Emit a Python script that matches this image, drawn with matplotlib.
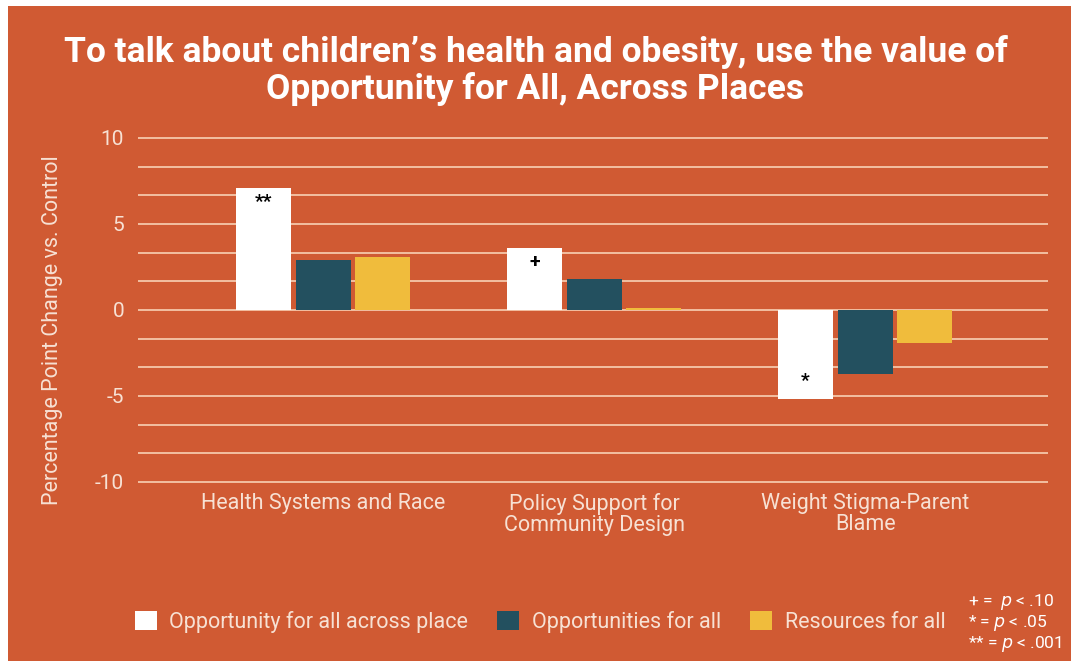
import matplotlib.pyplot as plt
import numpy as np
from matplotlib.patches import Rectangle

# ---------------------------
# Data
# ---------------------------
categories = ["Health Systems and Race",
              "Policy Support for\nCommunity Design",
              "Weight Stigma-Parent\nBlame"]
series_names = ["Opportunity for all across place",
                "Opportunities for all",
                "Resources for all"]
across_place = [7.1, 3.6, -5.2]
opportunities = [2.9, 1.8, -3.7]
resources = [3.1, 0.1, -1.9]
sig_marks = ["**", "+", "*"]
footnotes = [("+ =  ", ".10"), ("* = ", ".05"), ("** = ", ".001")]

BG = "#D05A33"
TEXT = "#F7E1D4"
GRID = "#F2BFA2"
colors = ["#FFFFFF", "#23505F", "#F0BC3C"]

plt.rcParams["font.family"] = ["Roboto", "DejaVu Sans"]

fig = plt.figure(figsize=(10.71, 6.61), dpi=100)
fig.patch.set_facecolor("white")
fig.patches.append(Rectangle((8 / 1071, 0), 1, 655 / 661, transform=fig.transFigure,
                             facecolor=BG, edgecolor="none", zorder=-10))

ax = fig.add_axes([0.1289, 0.2578, 0.8497, 0.5465])
ax.set_facecolor("none")

x = np.arange(len(categories))
width = 0.203
step = 0.22
for i, (vals, c) in enumerate(zip([across_place, opportunities, resources], colors)):
    ax.bar(x + (i - 1) * step, vals, width, color=c, label=series_names[i], zorder=3)

# significance markers inside the white bars
for xi, v, m in zip(x, across_place, sig_marks):
    y = v - 0.8 if v > 0 else v + 1.1
    ax.text(xi - step, y, m, ha="center", va="center", fontsize=14,
            fontweight="bold", color="black", zorder=4)

ax.set_xlim(-0.683, 2.675)
ax.set_ylim(-10.5, 10.5)
ax.set_yticks([-10, -5, 0, 5, 10])
ax.set_yticks(np.linspace(-10, 10, 13), minor=True)
ax.set_yticklabels(["-10", "-5", "0", "5", "10"])
ax.grid(True, axis="y", which="both", color=GRID, linewidth=1.4, zorder=0)
ax.tick_params(axis="y", which="both", length=0, colors=TEXT, labelsize=15, pad=10)
ax.tick_params(axis="x", length=0, colors=TEXT, labelsize=15.5, pad=2)
ax.set_xticks(x)
ax.set_xticklabels(categories, linespacing=1.0)
for s in ax.spines.values():
    s.set_visible(False)

ax.set_ylabel("Percentage Point Change vs. Control", color=TEXT, fontsize=15.5)
ax.yaxis.set_label_coords(-0.083, 0.445)

fig.text(0.5, 0.893, "To talk about children\u2019s health and obesity, use the value of\n"
         "Opportunity for All, Across Places", ha="center", va="center",
         fontsize=25.5, fontweight="bold", color="white", linespacing=1.1)

leg = fig.legend(loc="center left", bbox_to_anchor=(0.108, 0.059), ncol=3, frameon=False,
                 fontsize=15.5, handlelength=1.0, handleheight=1.0, columnspacing=1.35,
                 handletextpad=0.6)
for t in leg.get_texts():
    t.set_color(TEXT)

for k, (lead, num) in enumerate(footnotes):
    yy = (661 - 602 - k * 21) / 661
    fig.text(0.904, yy, lead + r"$\it{p}$" + " < " + num, ha="left", va="center",
             fontsize=12.5, color="white")

fig.savefig("out.png", dpi=100)
